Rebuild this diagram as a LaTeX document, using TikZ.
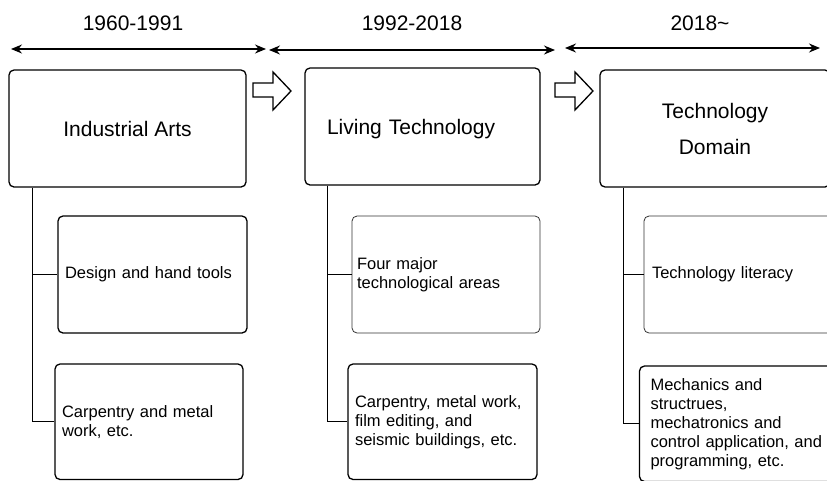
\documentclass[tikz,border=0pt]{standalone}
\usepackage{fontspec}
\setmainfont{Liberation Sans}
\usetikzlibrary{arrows.meta}
\tikzset{
  box/.style={draw, line width=1.3pt, rounded corners=5pt, inner sep=0pt},
  thinbox/.style={draw=black!80, line width=0.8pt, rounded corners=5pt, inner sep=0pt},
  big/.style={font=\fontsize{21}{24}\selectfont},
  small/.style={font=\fontsize{16.5}{19}\selectfont, align=left},
  span/.style={line width=1.3pt, {Stealth[length=11pt,width=9pt]}-{Stealth[length=11pt,width=9pt]}},
  hollow/.style={draw, line width=1.3pt, fill=white, line join=miter},
  link/.style={line width=1.3pt}
}
\begin{document}
\begin{tikzpicture}[x=1pt,y=-1pt]
\useasboundingbox (0,0) rectangle (827,480);
\clip (0,0) rectangle (827,480);

% period labels and spans
\node[big] (y1) at (133,23) {1960-1991};
\node[big] (y2) at (412,23) {1992-2018};
\node[big] (y3) at (700,23) {2018\char`~};
\coordinate (s1a) at (11,49);  \coordinate (s1b) at (266,49);
\coordinate (s2a) at (269,50); \coordinate (s2b) at (555,50);
\coordinate (s3a) at (565,48); \coordinate (s3b) at (820,48);
\draw[span] (s1a) -- (s1b);
\draw[span] (s2a) -- (s2b);
\draw[span] (s3a) -- (s3b);

% main boxes
\node[box, big, minimum width=237, minimum height=117] (b1) at (127.5,128.5) {Industrial Arts};
\node[box, big, minimum width=235, minimum height=117, text width=191, align=left, inner xsep=22pt, text depth=0pt] (b2) at (422.5,126.5) {Living Technology};
\node[box, big, minimum width=230, minimum height=117, align=center, font=\fontsize{21}{36}\selectfont, text depth=0pt] (b3) at (715,128.5) {Technology\\Domain};

% hollow arrows
\draw[hollow] (253,83) -- (273,83) -- (273,72) -- (291,91) -- (273,110) -- (273,97) -- (253,97) -- cycle;
\draw[hollow] (555,83) -- (575,83) -- (575,72) -- (593,91) -- (575,110) -- (575,97) -- (555,97) -- cycle;

% sub boxes column 1
\node[box, small, minimum width=189, minimum height=117, text width=175, inner xsep=7pt] (d1) at (152.5,274.5) {Design and hand tools};
\node[box, small, minimum width=188, minimum height=115.5, text width=174, inner xsep=7pt] (c1) at (149,421.75) {Carpentry and metal\\work, etc.};

% sub boxes column 2
\node[thinbox, small, minimum width=188, minimum height=117, text width=178, inner xsep=5pt] (d2) at (446,274.5) {Four major\\technological areas};
\node[box, small, minimum width=189, minimum height=115.5, text width=175, inner xsep=7pt] (c2) at (442.5,421.75) {Carpentry, metal work,\\film editing, and\\seismic buildings, etc.};

% sub boxes column 3
\node[thinbox, small, minimum width=190, minimum height=117, text width=182, inner xsep=8pt] (d3) at (743,274.5) {Technology literacy};
\node[box, small, minimum width=190, minimum height=115.5, text width=179, inner xsep=11pt] (c3) at (740,423.75) {Mechanics and\\structrues,\\mechatronics and\\control application, and\\programming, etc.};

% tree connectors
\draw[link] ([xshift=24pt]b1.south west) |- (d1.west);
\draw[link] ([xshift=24pt]b1.south west) |- (c1.west);
\draw[link] ([xshift=23pt]b2.south west) |- (d2.west);
\draw[link] ([xshift=23pt]b2.south west) |- (c2.west);
\draw[link] ([xshift=24pt]b3.south west) |- (d3.west);
\draw[link] ([xshift=24pt]b3.south west) |- (c3.west);
\end{tikzpicture}
\end{document}
